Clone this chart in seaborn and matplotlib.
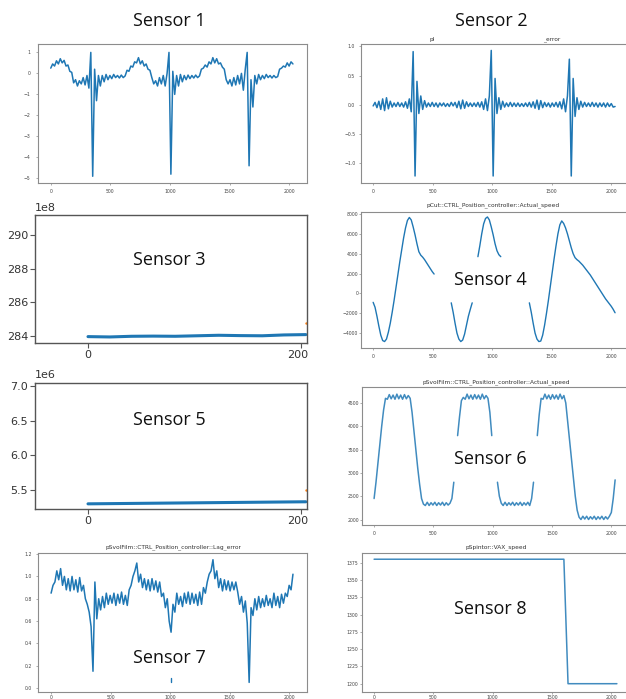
import numpy as np
import pandas as pd
import matplotlib
matplotlib.use("Agg")
import matplotlib.pyplot as plt
from matplotlib.ticker import FuncFormatter
from matplotlib.transforms import Bbox, TransformedBbox
import seaborn as sns

nan = np.nan

# Sample index axis: every 16th sample of a 2048-sample record
SAMPLE_STEP = 16
SAMPLE_X = np.arange(128) * SAMPLE_STEP

sensor1 = [
    0.25, 0.45, 0.35, 0.60, 0.45, 0.70, 0.50, 0.62, 0.35, 0.40, 0.10, 0.05, -0.45, -0.30, -0.60, -0.35,
    -0.50, -0.20, -0.55, -0.10, -0.70, 1.00, -4.90, 0.20, -1.30, -0.10, -0.60, -0.10, -0.40, -0.05, -0.30, -0.10,
    -0.25, -0.05, -0.20, -0.10, -0.22, -0.08, -0.20, -0.12, 0.15, 0.10, 0.35, 0.30, 0.55, 0.50, 0.75, 0.45,
    0.60, 0.35, 0.45, 0.20, 0.15, -0.20, -0.50, -0.35, -0.60, -0.20, -0.50, -0.10, -0.60, 0.00, 1.00, -4.80,
    0.10, -1.00, -0.10, -0.60, -0.05, -0.40, -0.10, -0.30, -0.08, -0.25, -0.10, -0.22, -0.08, -0.20, -0.12, 0.20,
    0.25, 0.40, 0.30, 0.55, 0.45, 0.75, 0.50, 0.70, 0.45, 0.50, 0.30, 0.20, -0.30, -0.50, -0.30, -0.60,
    -0.20, -0.55, -0.10, -0.50, 0.00, -0.80, 0.20, 1.00, -4.40, -0.30, -1.60, -0.10, -0.50, -0.05, -0.30, -0.10,
    -0.25, -0.05, -0.20, -0.10, -0.22, -0.10, -0.20, -0.15, 0.20, 0.25, 0.35, 0.30, 0.50, 0.35, 0.55, 0.45,
]

sensor2 = [
    -0.02, 0.04, -0.05, 0.06, -0.08, 0.10, -0.10, 0.12, -0.07, 0.06, -0.04, 0.03, -0.03, 0.04, -0.03, 0.03,
    -0.04, 0.05, -0.06, 0.10, -0.12, 0.91, -1.22, 0.40, -0.15, 0.15, -0.08, 0.07, -0.04, 0.03, -0.03, 0.04,
    -0.03, 0.03, -0.04, 0.03, -0.02, 0.03, -0.03, 0.02, -0.03, 0.04, -0.02, 0.04, -0.05, 0.06, -0.07, 0.08,
    -0.06, 0.05, -0.03, 0.03, -0.03, 0.03, -0.03, 0.04, -0.04, 0.05, -0.08, 0.10, -0.10, 0.15, 0.93, -1.22,
    0.45, -0.15, 0.12, -0.08, 0.06, -0.04, 0.03, -0.03, 0.04, -0.03, 0.03, -0.03, 0.03, -0.03, 0.02, -0.03,
    0.03, -0.03, 0.04, -0.04, 0.05, -0.06, 0.08, -0.08, 0.07, -0.05, 0.04, -0.03, 0.03, -0.04, 0.03, -0.03,
    0.04, -0.04, 0.05, -0.07, 0.10, -0.12, 0.15, 0.78, -1.22, 0.45, -0.20, 0.12, -0.08, 0.06, -0.04, 0.04,
    -0.03, 0.03, -0.03, 0.04, -0.03, 0.03, -0.04, 0.03, -0.03, 0.03, -0.04, 0.03, -0.03, 0.02, -0.04, -0.03,
]

sensor3_x = [0, 205, 410, 614, 819, 1024, 1228, 1433, 1638, 1842, 2047]
sensor3 = [283.95e8, 283.93e8, 283.97e8, 283.98e8, 283.97e8, 284.00e8,
           284.03e8, 284.01e8, 284.00e8, 284.05e8, 284.07e8]

sensor4 = [
    -900, -1400, -2300, -3300, -4200, -4750, -4850, -4600, -3900, -3000, -1900, -700, 600, 1900, 3200, 4400,
    5600, 6600, 7350, 7650, 7400, 6700, 5900, 5000, 4200, 3850, 3650, 3400, 3100, 2800, 2500, 2200,
    1950, nan, nan, nan, nan, nan, nan, nan, nan, -950, -1900, -3000, -4000, -4600, -4850, -4700,
    -4100, -3200, -2300, -1600, -950, nan, nan, 3700, 4800, 6000, 7000, 7550, 7700, 7400, 6700, 5900,
    5000, 4300, 3900, 3700, nan, nan, nan, nan, nan, nan, nan, nan, nan, nan, nan, nan,
    nan, nan, -950, -1900, -3000, -4000, -4600, -4850, -4800, -4200, -3200, -2000, -700, 700, 2100, 3500,
    4800, 6000, 6900, 7300, 7050, 6600, 6000, 5300, 4600, 4000, 3600, 3400, 3250, 3050, 2850, 2600,
    2350, 2100, 1850, 1550, 1250, 950, 650, 350, 50, -250, -550, -800, -1050, -1300, -1600, -1950,
]

sensor5_x = [0, 205, 410, 614, 819, 1024, 1228, 1433, 1638, 1842, 2047]
sensor5 = [5.295e6, 5.298e6, 5.301e6, 5.304e6, 5.307e6, 5.310e6,
           5.313e6, 5.316e6, 5.319e6, 5.322e6, 5.325e6]

sensor6 = [
    2450, 2800, 3200, 3600, 4000, 4350, 4600, 4580, 4680, 4590, 4670, 4580, 4690, 4590, 4670, 4580,
    4680, 4590, 4660, 4600, 4300, 3900, 3500, 3100, 2750, 2450, 2330, 2300, 2370, 2300, 2360, 2310,
    2370, 2300, 2360, 2310, 2370, 2300, 2360, 2310, 2350, 2450, 2800, nan, 3800, 4200, 4550, 4620,
    4580, 4690, 4590, 4670, 4580, 4680, 4590, 4670, 4580, 4690, 4590, 4660, 4600, 4300, 3800, nan,
    nan, 2800, 2500, 2350, 2300, 2370, 2300, 2360, 2310, 2370, 2300, 2360, 2310, 2370, 2300, 2360,
    2310, 2370, 2300, 2450, 2800, nan, 3800, 4250, 4600, 4580, 4690, 4590, 4670, 4580, 4680, 4590,
    4670, 4580, 4690, 4590, 4660, 4500, 4100, 3700, 3300, 2900, 2500, 2200, 2050, 2000, 2070, 2010,
    2070, 2000, 2060, 2010, 2070, 2000, 2060, 2010, 2070, 2000, 2060, 2010, 2070, 2150, 2450, 2850,
]

sensor7 = [
    0.85, 0.92, 0.95, 1.05, 0.97, 1.07, 0.92, 1.00, 0.88, 0.98, 0.87, 1.00, 0.88, 0.97, 0.86, 0.99,
    0.87, 0.92, 0.80, 0.75, 0.68, 0.55, 0.15, 0.95, 0.62, 0.80, 0.70, 0.82, 0.72, 0.85, 0.75, 0.83,
    0.76, 0.85, 0.74, 0.84, 0.76, 0.86, 0.75, 0.83, 0.74, 0.88, 0.92, 1.00, 1.05, 1.12, 0.95, 1.02,
    0.90, 0.98, 0.88, 0.97, 0.87, 0.98, 0.88, 0.96, 0.86, 0.95, 0.82, 0.85, 0.72, 0.80, 0.60, 0.50,
    0.75, 0.68, 0.85, 0.75, 0.82, 0.73, 0.85, 0.76, 0.86, 0.75, 0.85, 0.76, 0.84, 0.74, 0.86, 0.75,
    0.90, 0.85, 0.95, 1.02, 1.05, 1.15, 0.98, 1.05, 0.90, 0.98, 0.87, 0.97, 0.88, 0.96, 0.87, 0.95,
    0.88, 0.95, 0.86, 0.75, 0.82, 0.68, 0.78, 0.58, 0.05, 0.72, 0.65, 0.80, 0.70, 0.82, 0.72, 0.80,
    0.73, 0.83, 0.74, 0.80, 0.72, 0.85, 0.74, 0.82, 0.72, 0.84, 0.76, 0.85, 0.82, 0.92, 0.88, 1.02,
]
sensor7_blip_x = [1006, 1006]
sensor7_blip = [0.05, 0.09]

sensor8_x = [0, 1600, 1635, 2047]
sensor8 = [1380, 1380, 1200, 1200]

panel_titles = {
    4: "pCut::CTRL_Position_controller::Actual_speed",
    6: "pSvolFilm::CTRL_Position_controller::Actual_speed",
    7: "pSvolFilm::CTRL_Position_controller::Lag_error",
    8: "pSpintor::VAX_speed",
}
sensor_names = [f"Sensor {i}" for i in range(1, 9)]

BLUE = "#1f77b4"
ORANGE = "#ff7f0e"

sns.set_theme(style="ticks")
plt.rcParams["font.family"] = ["DejaVu Sans"]
plt.rcParams["axes.unicode_minus"] = True

W, H = 626, 699
fig = plt.figure(figsize=(W / 100, H / 100), dpi=100)
fig.patch.set_facecolor("white")


def add_ax(l, t, r, b):
    return fig.add_axes([l / W, 1 - b / H, (r - l) / W, (b - t) / H])


def frame(xs, ys):
    df = pd.DataFrame({"x": xs, "y": ys})
    df["seg"] = df["y"].isna().cumsum()
    return df.dropna()


def trace(ax, xs, ys, lw=1.0, color=BLUE, alpha=1.0):
    sns.lineplot(data=frame(xs, ys), x="x", y="y", units="seg", estimator=None,
                 ax=ax, color=color, linewidth=lw, alpha=alpha, sort=False)
    ax.set_xlabel("")
    ax.set_ylabel("")


def style_small(ax, xpad=2.5, ypad=2.0):
    for s in ax.spines.values():
        s.set_color("#8c8c8c")
        s.set_linewidth(0.8)
    ax.tick_params(length=1.6, width=0.5, color="#8c8c8c", labelsize=3.3,
                   labelcolor="#444444")
    ax.tick_params(axis="x", pad=xpad)
    ax.tick_params(axis="y", pad=ypad)
    ax.set_xticks([0, 500, 1000, 1500, 2000])
    ax.set_facecolor("white")


def style_big(ax):
    for s in ax.spines.values():
        s.set_color("#555555")
        s.set_linewidth(1.0)
    ax.tick_params(length=3.5, width=0.8, color="#555555", labelsize=8,
                   labelcolor="#333333", pad=1.5)
    ax.set_facecolor("white")


small_font = dict(fontsize=4.2, color="#333333", ha="center", va="center")

# Sensor 1
ax1 = add_ax(38, 44, 307, 183)
trace(ax1, SAMPLE_X, sensor1, lw=1.1)
style_small(ax1, xpad=2.5, ypad=4.0)
ax1.set_xlim(-107, 2150)
ax1.set_ylim(-5.22, 1.40)
ax1.set_yticks([-5, -4, -3, -2, -1, 0, 1])

# Sensor 2
ax2 = add_ax(361, 44, 629, 183)
trace(ax2, SAMPLE_X, sensor2, lw=1.1)
style_small(ax2, xpad=2.5, ypad=2.5)
ax2.set_xlim(-102, 2149)
ax2.set_ylim(-1.34, 1.04)
ax2.set_yticks([-1.0, -0.5, 0.0, 0.5, 1.0])
fig.text(432 / W, 1 - 40 / H, "pl", **small_font)
fig.text(552 / W, 1 - 40 / H, "_error", **small_font)

# Sensor 3
ax3 = add_ax(35, 215, 307, 343)
trace(ax3, sensor3_x, sensor3, lw=2.2)
sns.scatterplot(x=[2050], y=[284.75e8], ax=ax3, color=ORANGE, s=3, linewidth=0)
style_big(ax3)
ax3.set_xlim(-498, 2058)
ax3.set_ylim(283.57e8, 291.19e8)
ax3.set_xticks([0, 2000])
ax3.set_yticks([284e8, 286e8, 288e8, 290e8])
ax3.yaxis.set_major_formatter(FuncFormatter(lambda v, p: f"{v / 1e8:.0f}"))
fig.text(45 / W, 1 - 208 / H, "1e8", fontsize=8, color="#333333", ha="center", va="center")

# Sensor 4
ax4 = add_ax(361, 212, 629, 348)
trace(ax4, SAMPLE_X, sensor4, lw=1.0)
style_small(ax4, xpad=2.5, ypad=0.3)
ax4.set_xlim(-102, 2149)
ax4.set_ylim(-5500, 8200)
ax4.set_yticks([-4000, -2000, 0, 2000, 4000, 6000, 8000])
fig.text(493 / W, 1 - 205 / H, panel_titles[4], **small_font)

# Sensor 5
ax5 = add_ax(35, 383, 307, 509)
trace(ax5, sensor5_x, sensor5, lw=2.2)
sns.scatterplot(x=[2050], y=[5.5e6], ax=ax5, color=ORANGE, s=3, linewidth=0)
style_big(ax5)
ax5.set_xlim(-498, 2058)
ax5.set_ylim(5.22e6, 7.05e6)
ax5.set_xticks([0, 2000])
ax5.set_yticks([5.5e6, 6.0e6, 6.5e6, 7.0e6])
ax5.yaxis.set_major_formatter(FuncFormatter(lambda v, p: f"{v / 1e6:.1f}"))
fig.text(45 / W, 1 - 375 / H, "1e6", fontsize=8, color="#333333", ha="center", va="center")

# Sensor 6
ax6 = add_ax(362, 387, 629, 525)
trace(ax6, SAMPLE_X, sensor6, lw=1.1, alpha=0.85)
style_small(ax6, xpad=2.5, ypad=0.6)
ax6.set_xlim(-102, 2149)
ax6.set_ylim(1882, 4843)
ax6.set_yticks([2000, 2500, 3000, 3500, 4000, 4500])
fig.text(496 / W, 1 - 382 / H, panel_titles[6], **small_font)

# Sensor 7
ax7 = add_ax(38, 553, 307, 692)
trace(ax7, SAMPLE_X, sensor7, lw=1.1)
trace(ax7, sensor7_blip_x, sensor7_blip)
style_small(ax7, xpad=0.6, ypad=2.5)
ax7.set_xlim(-110, 2150)
ax7.set_ylim(-0.036, 1.21)
ax7.set_yticks([0.0, 0.2, 0.4, 0.6, 0.8, 1.0, 1.2])
fig.text(173 / W, 1 - 547 / H, panel_titles[7], **small_font)

# Sensor 8
ax8 = add_ax(362, 553, 629, 692)
trace(ax8, sensor8_x, sensor8, lw=1.1, alpha=0.85)
style_small(ax8, xpad=0.6, ypad=1.0)
ax8.set_xlim(-102, 2149)
ax8.set_ylim(1188, 1389)
ax8.set_yticks([1200, 1225, 1250, 1275, 1300, 1325, 1350, 1375])
fig.text(496 / W, 1 - 547 / H, panel_titles[8], **small_font)

# The left column is cut just past the right spine of the wide-x panels
cut = TransformedBbox(Bbox.from_extents(0, 0, 307.5 / W, 1), fig.transFigure)
for ax in (ax3, ax5):
    for tick in ax.xaxis.get_major_ticks():
        tick.label1.set_clip_box(cut)
        tick.label1.set_clip_on(True)

# Panel captions
caption_pos = [(169, 21), (491, 21), (169, 260), (490, 280),
               (169, 420), (490, 459), (169, 658), (490, 609)]
for name, (cx, cy) in zip(sensor_names, caption_pos):
    fig.text(cx / W, 1 - cy / H, name, fontsize=13, family="Open Sans",
             color="#111111", ha="center", va="center")

fig.savefig("out.png", dpi=100, facecolor="white")
